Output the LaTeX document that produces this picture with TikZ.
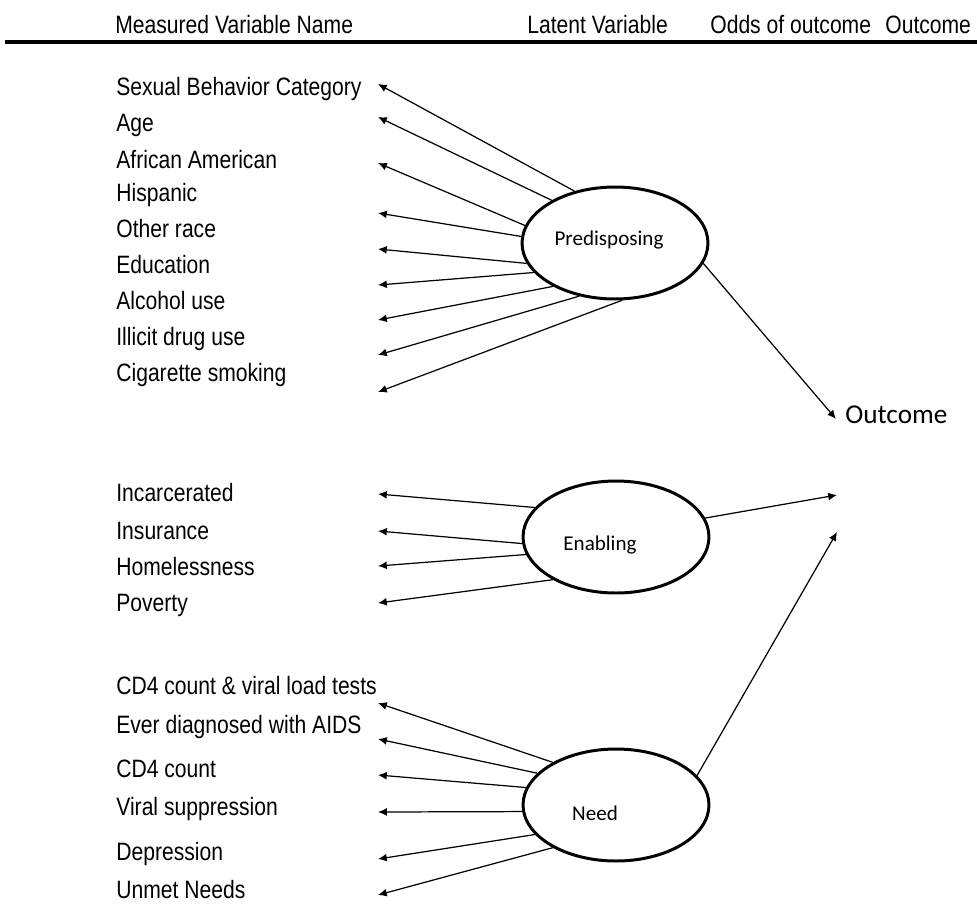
\documentclass[tikz,border=0pt]{standalone}
\usepackage{fontspec}
\setmainfont{Liberation Sans}[FakeStretch=0.84]
\newfontfamily\calfont{Carlito}
\usetikzlibrary{arrows.meta,shapes.geometric}
\tikzset{
  latent/.style={draw,ellipse,line width=1.7pt,minimum width=3.72cm,minimum height=2.24cm,inner sep=0pt},
  latname/.style={inner sep=0pt,font=\calfont\fontsize{12}{14}\selectfont},
  varname/.style={anchor=base west,inner sep=0pt,font=\fontsize{14.3}{16}\selectfont},
  colhead/.style={varname},
  load/.style={-{Latex[length=5pt,width=4.5pt]},line width=0.7pt},
}
\begin{document}
\begin{tikzpicture}[x=0.02cm,y=-0.02cm]
            \useasboundingbox (0,0) rectangle (977,904);
            % column headings
            \node[colhead] (h-meas) at (115,33) {Measured Variable Name};
            \node[colhead] (h-lat) at (527,33) {Latent Variable};
            \node[colhead] (h-odds) at (710,33) {Odds of outcome};
            \node[colhead] (h-out) at (885,33) {Outcome};
            \draw[line width=2.1pt] (5,42) -- (977,42);
            % latent variables
            \node[latent] (pre) at (615,243) {};
            \node[latent] (enab) at (616,537) {};
            \node[latent] (need) at (616,805) {};
            \node[latname] (pre-txt) at (609,240) {Predisposing};
            \node[latname] (enab-txt) at (600,545) {Enabling};
            \node[latname] (need-txt) at (595,813) {Need};
            % outcome
            \node[anchor=west,inner sep=0pt,font=\calfont\fontsize{15.5}{18}\selectfont] (out) at (845,415) {Outcome};
            \coordinate (out-a) at (836,419);
            \coordinate (out-b) at (837,495);
            \coordinate (out-c) at (837,532);
            \draw[load] (pre.347) -- (out-a);
            \draw[load] (enab.12) -- (out-b);
            \draw[load] (need.20) -- (out-c);
            % measured variables
            \foreach \txt/\y/\ty/\ang [count=\i] in {Sexual Behavior Category/95/84/128, Age/131/117/146,
                African American/168/163/169, Hispanic/201/213/176, Other race/237/249/193, Education/273/285/200,
                Alcohol use/309/320/215, Illicit drug use/345/355/236, Cigarette smoking/381/392/277}{
                \node[varname] (pre-v\i) at (116,\y) {\txt};
                \coordinate (pre-t\i) at (378,\ty);
                \draw[load] (pre.\ang) -- (pre-t\i);
            }
            \foreach \txt/\y/\ty/\ang [count=\i] in {Incarcerated/501/494/160, Insurance/539/531/184,
                Homelessness/575/566/191, Poverty/611/603/214}{
                \node[varname] (enab-v\i) at (116,\y) {\txt};
                \coordinate (enab-t\i) at (378,\ty);
                \draw[load] (enab.\ang) -- (enab-t\i);
            }
            \foreach \txt/\y/\ty/\ang [count=\i] in {CD4 count \& viral load tests/694/703/146, Ever diagnosed with AIDS/733/739/158,
                CD4 count/777/775/169, Viral suppression/815/812/184, Depression/860/859/200, Unmet Needs/898/895/214}{
                \node[varname] (need-v\i) at (116,\y) {\txt};
                \coordinate (need-t\i) at (378,\ty);
                \draw[load] (need.\ang) -- (need-t\i);
            }
        \end{tikzpicture}
\end{document}
